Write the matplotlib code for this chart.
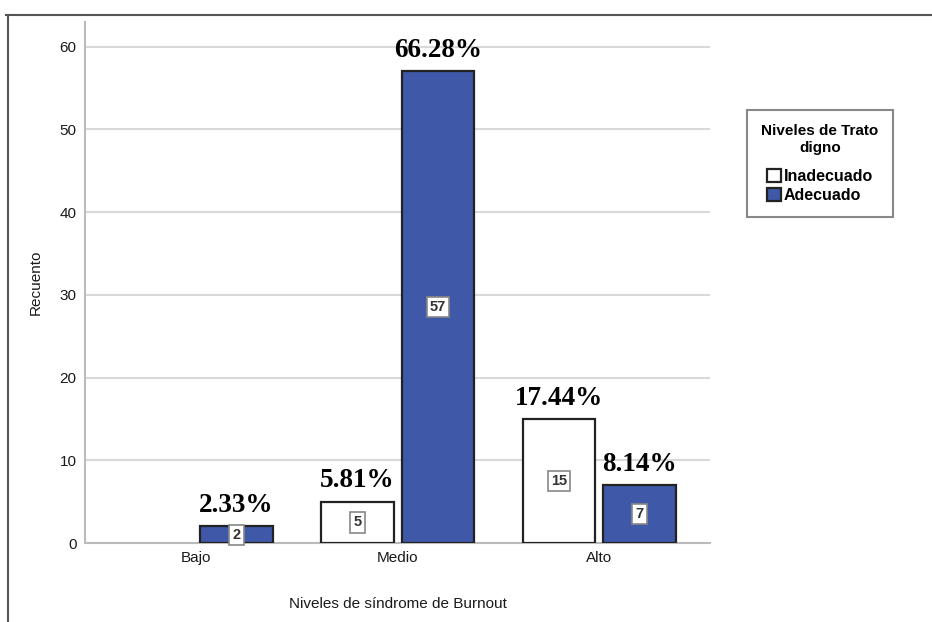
import numpy as np
import matplotlib.pyplot as plt
from matplotlib.patches import Patch
from matplotlib.lines import Line2D

# datos del gráfico
niveles = ['Bajo', 'Medio', 'Alto']
inadecuado = [0, 5, 15]
adecuado = [2, 57, 7]
pct_inadecuado = [None, '5.81%', '17.44%']
pct_adecuado = ['2.33%', '66.28%', '8.14%']

azul = '#3f58a8'
plt.rcParams['font.family'] = ['Liberation Sans', 'DejaVu Sans']

fig = plt.figure(figsize=(9.32, 6.22), dpi=100)
ax = fig.add_axes([0.0912, 0.127, 0.671, 0.838])

x = np.arange(len(niveles))
ancho = 0.36
desp = 0.2

# las barras con valor 0 no se dibujan
bordes1 = ['#222222' if v > 0 else 'none' for v in inadecuado]
bordes2 = ['#222222' if v > 0 else 'none' for v in adecuado]
ax.bar(x - desp, inadecuado, ancho, color='white', edgecolor=bordes1, linewidth=1.6, zorder=3)
ax.bar(x + desp, adecuado, ancho, color=azul, edgecolor=bordes2, linewidth=1.6, zorder=3)

# recuento dentro de cada barra y porcentaje encima
caja = dict(boxstyle='square,pad=0.22', facecolor='white', edgecolor='#888888', linewidth=1.2)
for xs, vals, pcts in [(x - desp, inadecuado, pct_inadecuado), (x + desp, adecuado, pct_adecuado)]:
    for xi, v, p in zip(xs, vals, pcts):
        if v == 0:
            continue
        ax.text(xi, v / 2, str(v), ha='center', va='center', fontsize=10.5,
                fontweight='bold', color='#333333', bbox=caja, zorder=5)
        ax.text(xi, v + 1.0, p, ha='center', va='bottom', fontsize=19.5,
                fontweight='bold', family='Liberation Serif', zorder=5)

ax.set_xlim(-0.55, 2.55)
ax.set_ylim(0, 63)
ax.set_yticks(range(0, 61, 10))
ax.set_xticks(x)
ax.set_xticklabels(niveles)
ax.tick_params(length=0, labelsize=11, colors='#1a1a1a', pad=6)
ax.yaxis.grid(True, color='#d9d9d9', linewidth=1.5, zorder=0)
ax.set_axisbelow(True)
for s in ['top', 'right']:
    ax.spines[s].set_visible(False)
for s in ['left', 'bottom']:
    ax.spines[s].set_color('#bbbbbb')
    ax.spines[s].set_linewidth(1.5)

ax.set_xlabel('Niveles de síndrome de Burnout', fontsize=11, labelpad=23, color='#1a1a1a')
ax.set_ylabel('Recuento', fontsize=11, labelpad=12, color='#1a1a1a')

# leyenda
handles = [Patch(facecolor='white', edgecolor='#222222', linewidth=1.6),
           Patch(facecolor=azul, edgecolor='#222222', linewidth=1.6)]
leg = fig.legend(handles, ['Inadecuado', 'Adecuado'], title='Niveles de Trato\ndigno',
                 loc='upper left', bbox_to_anchor=(0.8015, 0.823), borderaxespad=0,
                 fontsize=11.5, title_fontproperties={'weight': 'bold', 'size': 11},
                 handlelength=0.9, handleheight=0.9, handletextpad=0.15,
                 fancybox=False, edgecolor='#888888', framealpha=1, borderpad=0.9,
                 labelspacing=0.25)
leg.get_title().set_multialignment('center')
for t in leg.get_texts():
    t.set_fontweight('bold')
leg.get_frame().set_linewidth(1.5)
leg._legend_box.sep = 10

# marco exterior
fig.add_artist(Line2D([0.006, 1.0], [0.976, 0.976], color='#555555', linewidth=1.5))
fig.add_artist(Line2D([0.009, 0.009], [0.0, 0.976], color='#555555', linewidth=1.5))

fig.savefig('out.png', dpi=100)
